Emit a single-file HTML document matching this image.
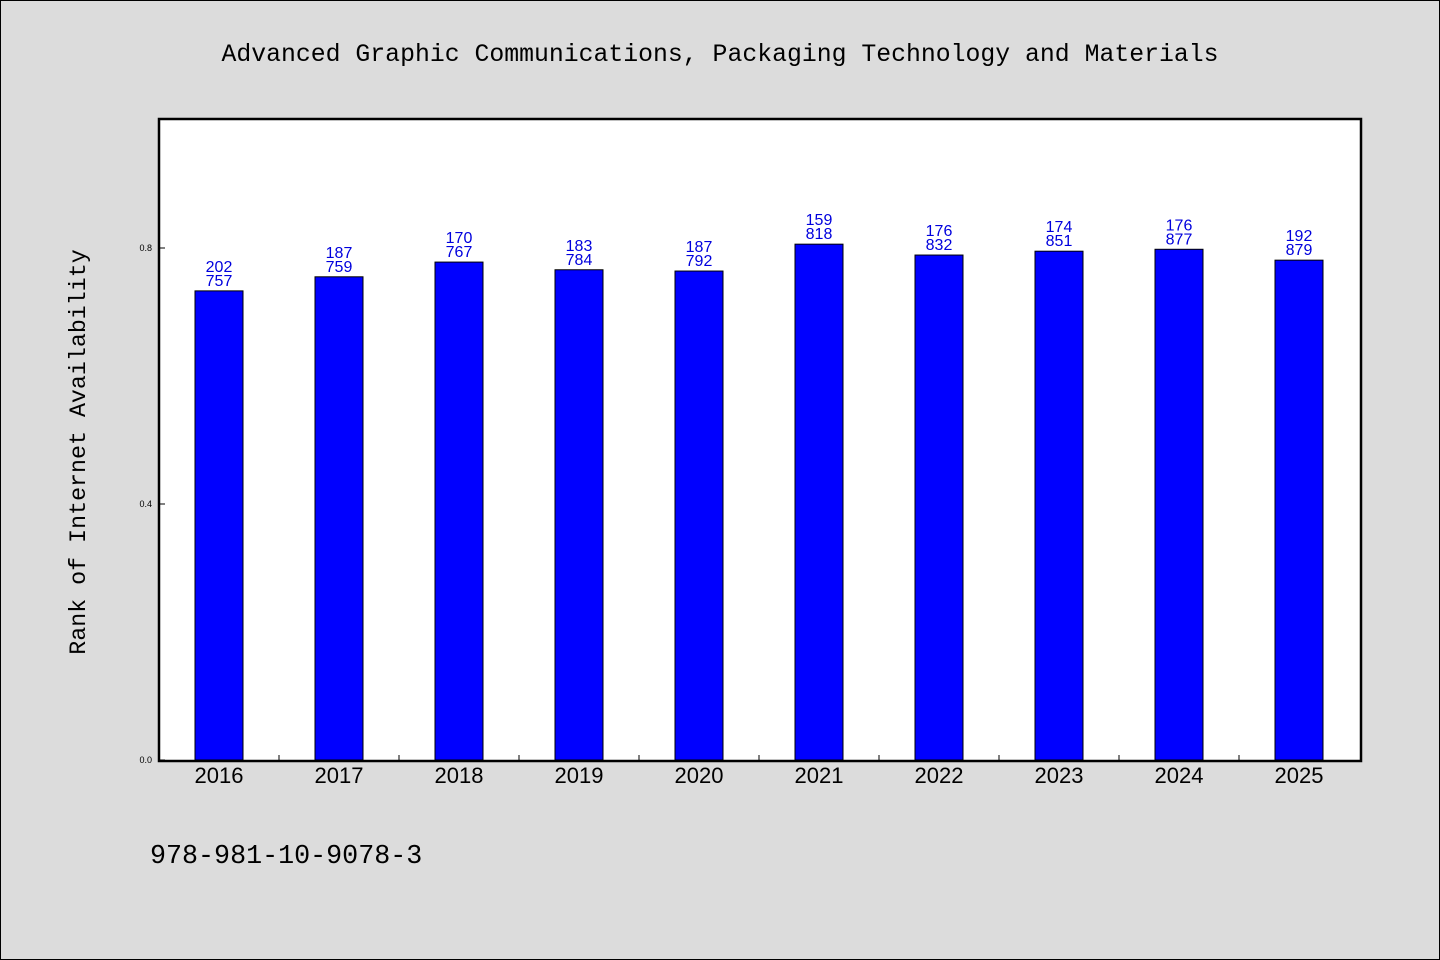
<!DOCTYPE html>
<html><head><meta charset="utf-8"><style>
body{margin:0;background:#dcdcdc;}
svg{display:block}
</style></head><body>
<svg width="1440" height="960" xmlns="http://www.w3.org/2000/svg">
<rect x="0.5" y="0.5" width="1439" height="959" fill="#dcdcdc" stroke="#000"/>
<text x="720" y="61" text-anchor="middle" font-family="Liberation Mono, monospace" font-size="24.8">Advanced Graphic Communications, Packaging Technology and Materials</text>
<rect x="159" y="119" width="1202" height="642" fill="#fff"/>
<g id="bars"></g>
<rect x="159" y="119" width="1202" height="642" fill="none" stroke="#000" stroke-width="2.5"/>
<text transform="translate(85,452) rotate(-90)" text-anchor="middle" font-family="Liberation Mono, monospace" font-size="23.3">Rank of Internet Availability</text>
<text x="150" y="863" font-family="Liberation Mono, monospace" font-size="26.7">978-981-10-9078-3</text>
</svg>
<script>
const categories=["2016","2017","2018","2019","2020","2021","2022","2023","2024","2025"];
const values=[0.733,0.755,0.778,0.766,0.764,0.806,0.789,0.795,0.798,0.781];
const labelTop=["202","187","170","183","187","159","176","174","176","192"];
const labelBottom=["757","759","767","784","792","818","832","851","877","879"];
const yTicks=[0.0,0.4,0.8];
const NS="http://www.w3.org/2000/svg";
const svg=document.querySelector('svg');const g=document.getElementById('bars');
const x0=159,step=120,y0=760,ppu=640,bw=48;
const xs=i=>x0+step*i+step/2;const ys=v=>y0-v*ppu;
function mk(t,a,p){const e=document.createElementNS(NS,t);for(const k in a)e.setAttribute(k,a[k]);(p||g).appendChild(e);return e;}
categories.forEach((c,i)=>{
 const r=mk('rect',{x:xs(i)-bw/2,y:ys(values[i]),width:bw,height:y0-ys(values[i]),fill:'#0000ff',stroke:'#000','stroke-width':1});
 
 
 const t1=mk('text',{x:xs(i),y:ys(values[i])-19,'text-anchor':'middle','font-family':'Liberation Sans, sans-serif','font-size':16,fill:'#0000dd'});
 t1.textContent=labelTop[i];
 
 
 const t2=mk('text',{x:xs(i),y:ys(values[i])-5,'text-anchor':'middle','font-family':'Liberation Sans, sans-serif','font-size':16,fill:'#0000dd'});
 t2.textContent=labelBottom[i];
 
 
 const xl=mk('text',{x:xs(i),y:783,'text-anchor':'middle','font-family':'Liberation Sans, sans-serif','font-size':22},svg);
 xl.textContent=c;
 
 
 if(i>0){const tk=mk('line',{x1:x0+step*i,x2:x0+step*i,y1:761,y2:755,stroke:'#000'});
 
 }
});
yTicks.forEach(v=>{
 const tk=mk('line',{x1:159,x2:165,y1:ys(v),y2:ys(v),stroke:'#000'});
 
 
 const t=mk('text',{x:152,y:ys(v)+3,'text-anchor':'end','font-family':'Liberation Sans, sans-serif','font-size':9},svg);
 t.textContent=v.toFixed(1);
 
 
});
</script>
</body></html>
